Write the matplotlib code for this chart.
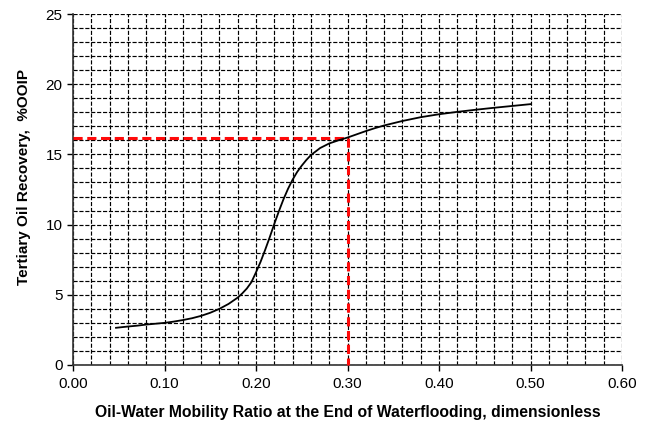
import matplotlib
matplotlib.use("Agg")
import matplotlib.pyplot as plt
from matplotlib.ticker import MultipleLocator, FormatStrFormatter

plt.rcParams['font.family'] = ['Liberation Sans', 'DejaVu Sans']

# curve
mobility = [0.047, 0.06, 0.07, 0.08, 0.09, 0.10, 0.11, 0.12, 0.13, 0.14, 0.15,
            0.16, 0.17, 0.18, 0.185, 0.19, 0.195, 0.20, 0.205, 0.21, 0.215,
            0.22, 0.225, 0.23, 0.235, 0.24, 0.245, 0.25, 0.255, 0.26, 0.27,
            0.28, 0.29, 0.30, 0.31, 0.32, 0.33, 0.34, 0.36, 0.38, 0.40, 0.42,
            0.44, 0.46, 0.48, 0.50]
recovery = [2.65, 2.74, 2.8, 2.88, 2.94, 3.0, 3.09, 3.2, 3.33, 3.5, 3.72,
            4.0, 4.35, 4.8, 5.1, 5.45, 5.9, 6.6, 7.35, 8.2, 9.1,
            10.05, 10.95, 11.8, 12.55, 13.2, 13.75, 14.2, 14.6, 14.95, 15.45,
            15.78, 16.0, 16.2, 16.43, 16.66, 16.87, 17.06, 17.38, 17.65, 17.86, 18.03,
            18.18, 18.32, 18.45, 18.58]

# red guide at the read-off point
guide_x = 0.30
guide_y = 16.15

fig = plt.figure(figsize=(6.49, 4.22), dpi=100)
ax = fig.add_axes([73 / 649, 57 / 422, 549 / 649, 351 / 422])

ax.set_xlim(0, 0.6)
ax.set_ylim(0, 25)
ax.xaxis.set_major_locator(MultipleLocator(0.1))
ax.xaxis.set_minor_locator(MultipleLocator(0.02))
ax.yaxis.set_major_locator(MultipleLocator(5))
ax.yaxis.set_minor_locator(MultipleLocator(1))
ax.xaxis.set_major_formatter(FormatStrFormatter('%.2f'))

ax.grid(True, which='both', color='black', linewidth=0.85, linestyle=(0, (3.5, 1.5)))
ax.set_axisbelow(True)
for s in ['top', 'right']:
    ax.spines[s].set_visible(False)
for s in ['left', 'bottom']:
    ax.spines[s].set_linewidth(1.2)
    ax.spines[s].set_color('#333333')

ax.tick_params(which='major', direction='out', length=4, width=1, labelsize=11)
ax.tick_params(axis='x', pad=5)
ax.tick_params(which='minor', length=0)

ax.plot(mobility, recovery, color='black', linewidth=1.3, zorder=4)
ax.plot([0, guide_x, guide_x], [guide_y, guide_y, 0], color='#ff0a0a',
        linewidth=2.2, linestyle=(0, (3, 1.5)), zorder=3, clip_on=False)

ax.set_xlabel('Oil-Water Mobility Ratio at the End of Waterflooding, dimensionless',
              fontsize=11.3, fontweight='bold', labelpad=10)
ax.set_ylabel('Tertiary Oil Recovery,  %OOIP', fontsize=11, fontweight='bold')
ax.yaxis.set_label_coords(-0.077, 0.537)

fig.savefig('out.png', dpi=100)
